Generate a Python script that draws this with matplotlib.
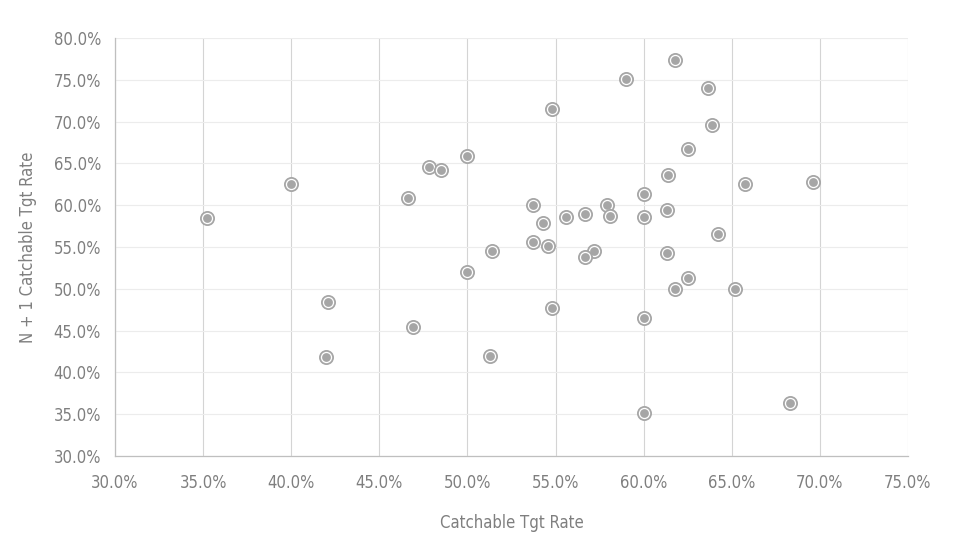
import matplotlib.pyplot as plt
from matplotlib.ticker import PercentFormatter

# Catchable Tgt Rate vs N + 1 Catchable Tgt Rate (in %)
tgt_rate = [61.8, 59.0, 63.65, 54.8, 63.9, 62.5, 50.0, 47.8, 48.5, 61.4,
            40.0, 65.75, 69.6, 60.0, 46.6, 53.7, 57.9, 56.7, 35.2, 55.6,
            58.1, 60.0, 61.3, 54.3, 64.2, 53.7, 54.6, 51.4, 57.2, 61.3,
            56.7, 62.5, 50.0, 61.8, 65.2, 42.1, 54.8, 60.0, 46.9, 42.0,
            51.3, 60.0, 68.3]
next_rate = [77.4, 75.1, 74.0, 71.5, 69.6, 66.7, 65.9, 64.6, 64.2, 63.6,
             62.5, 62.5, 62.8, 61.3, 60.9, 60.0, 60.0, 58.9, 58.5, 58.6,
             58.7, 58.6, 59.4, 57.9, 56.6, 55.6, 55.1, 54.5, 54.5, 54.3,
             53.8, 51.3, 52.0, 50.0, 50.0, 48.4, 47.7, 46.5, 45.4, 41.8,
             42.0, 35.1, 36.3]

grey = '#a6a6a6'
text_grey = '#7f7f7f'
plt.rcParams['font.family'] = 'DejaVu Sans'
plt.rcParams['font.stretch'] = 'condensed'

fig = plt.figure(figsize=(9.59, 5.51), dpi=100)
ax = fig.add_axes([0.1199, 0.1724, 0.8269, 0.7586])

ax.scatter(tgt_rate, next_rate, s=90, facecolor='white', edgecolor=grey,
           linewidth=1.3, zorder=3)
ax.scatter(tgt_rate, next_rate, s=40, color=grey, linewidth=0, zorder=4)

ax.set_xlim(30, 75)
ax.set_ylim(30, 80)
ax.set_xticks(range(30, 76, 5))
ax.set_yticks(range(30, 81, 5))
ax.xaxis.set_major_formatter(PercentFormatter(decimals=1))
ax.yaxis.set_major_formatter(PercentFormatter(decimals=1))

ax.grid(axis='x', color='#d4d4d4', linewidth=0.8)
ax.grid(axis='y', color='#ececec', linewidth=0.8)
ax.set_axisbelow(True)

for side in ['top', 'right']:
    ax.spines[side].set_visible(False)
for side in ['left', 'bottom']:
    ax.spines[side].set_color('#bfbfbf')
    ax.spines[side].set_linewidth(0.9)

ax.tick_params(length=0, labelsize=12, labelcolor=text_grey)
ax.tick_params(axis='x', pad=13)
ax.tick_params(axis='y', pad=10)
ax.set_xlabel('Catchable Tgt Rate', fontsize=12, color=text_grey, labelpad=16)
ax.set_ylabel('N + 1 Catchable Tgt Rate', fontsize=12, color=text_grey, labelpad=12)

plt.savefig('out.png', dpi=100)
